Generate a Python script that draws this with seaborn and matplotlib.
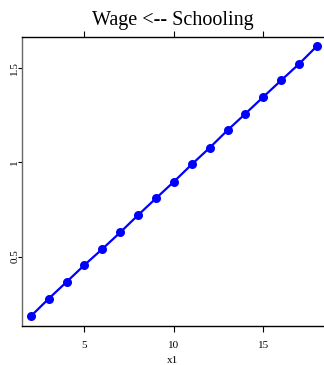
import matplotlib
matplotlib.use("Agg")
import matplotlib.pyplot as plt
import seaborn as sns
import pandas as pd

schooling = [2, 3, 4, 5, 6, 7, 8, 9, 10, 11, 12, 13, 14, 15, 16, 17, 18]
wage = [0.183, 0.276, 0.365, 0.455, 0.540, 0.628, 0.720, 0.809, 0.897,
        0.989, 1.077, 1.170, 1.258, 1.347, 1.435, 1.522, 1.617]
xticks = [5, 10, 15]
yticks = [0.5, 1, 1.5]
ytick_labels = ["0.5", "1", "1.5"]
title = "Wage <-- Schooling"
xlabel = "x1"

sns.set_style("white")
plt.rcParams['font.family'] = ['Liberation Serif', 'DejaVu Serif']
plt.rcParams['text.color'] = 'black'
plt.rcParams['axes.labelcolor'] = 'black'
plt.rcParams['xtick.color'] = 'black'
plt.rcParams['ytick.color'] = 'black'

df = pd.DataFrame({"x1": schooling, "wage": wage})

fig = plt.figure(figsize=(3.24, 3.65), dpi=100)
ax = fig.add_axes([22 / 324, (365 - 325.7) / 365, 1 - 22 / 324, (325.7 - 37.3) / 365])

sns.lineplot(data=df, x="x1", y="wage", ax=ax, color="#0000ff", marker="o",
             markersize=6.5, markeredgewidth=0, linewidth=1.6)

ax.set_xlim(1.51, 18.39)
ax.set_ylim(0.133, 1.663)
ax.set_xticks(xticks)
ax.set_xticklabels([str(t) for t in xticks])
ax.set_yticks(yticks)
ax.set_yticklabels(ytick_labels, rotation=90, va="center")

ax.spines["right"].set_visible(False)
ax.spines["top"].set_color("black")
ax.spines["bottom"].set_color("black")
ax.spines["left"].set_color("#666666")
for s in ["top", "bottom", "left"]:
    ax.spines[s].set_linewidth(1.0)

ax.tick_params(axis="x", which="both", top=True, bottom=True, labeltop=False,
               direction="out", length=4, width=0.8,
               labelsize=8, pad=7)
ax.tick_params(axis="y", which="both", left=True, right=False, direction="out",
               length=3, width=0.8, labelsize=8, pad=-1)

ax.set_xlabel(xlabel, fontsize=8, labelpad=4)
ax.set_ylabel("")
ax.set_title(title, fontsize=14.5, pad=9)
ax.grid(False)

fig.savefig("out.png", dpi=100)
